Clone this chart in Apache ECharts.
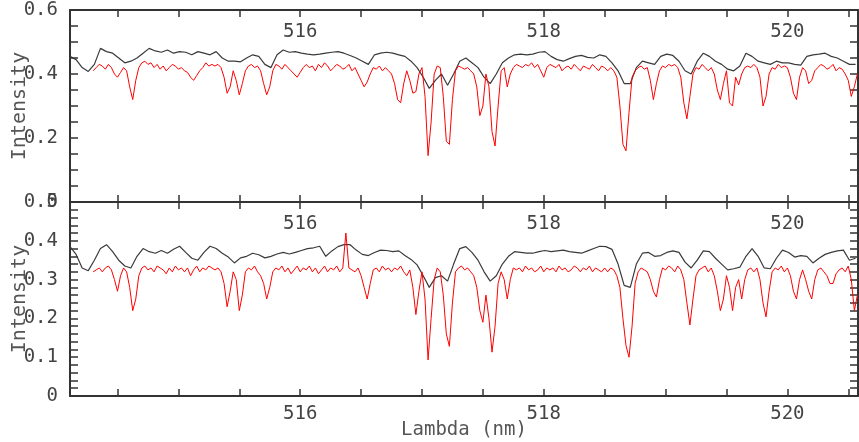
<!DOCTYPE html>
<html><head><meta charset="utf-8">
<script src="https://cdn.jsdelivr.net/npm/echarts@6/dist/echarts.min.js"></script>
<style>html,body{margin:0;padding:0;background:#fff}#c{width:859px;height:442px}</style>
</head><body><div id="c"></div>
<script>
// Wavelength axis (nm)
const xMin = 514.11, xMax = 520.58;
const xTickValues = [514.5,515,515.5,516,516.5,517,517.5,518,518.5,519,519.5,520,520.5];
const xLabelValues = [516,518,520];
// Intensity axes
const topYTicks = [0,0.05,0.1,0.15,0.2,0.25,0.3,0.35,0.4,0.45,0.5,0.55,0.6];
const topYLabels = [0,0.2,0.4,0.6];
const botYTicks = [0,0.02,0.04,0.06,0.08,0.1,0.12,0.14,0.16,0.18,0.2,0.22,0.24,0.26,0.28,0.3,0.32,0.34,0.36,0.38,0.4,0.42,0.44,0.46,0.48,0.5];
const botYLabels = [0,0.1,0.2,0.3,0.4,0.5];

// Sampling of the spectra (nm)
const redStart = 514.30, redStep = 0.025;
const blackStart = 514.11, blackStep = 0.05;

const topRed = [0.41,0.42,0.43,0.425,0.415,0.43,0.42,0.40,0.39,0.405,
 0.42,0.41,0.36,0.32,0.38,0.42,0.435,0.44,0.43,0.435,
 0.42,0.43,0.415,0.425,0.41,0.42,0.43,0.425,0.415,0.42,
 0.41,0.405,0.39,0.38,0.395,0.41,0.42,0.435,0.425,0.43,
 0.425,0.43,0.42,0.39,0.34,0.36,0.41,0.38,0.335,0.37,
 0.41,0.425,0.43,0.42,0.425,0.41,0.37,0.335,0.36,0.41,
 0.43,0.425,0.415,0.43,0.42,0.41,0.40,0.39,0.405,0.42,
 0.43,0.42,0.425,0.41,0.43,0.42,0.435,0.425,0.41,0.42,
 0.43,0.425,0.415,0.42,0.43,0.41,0.42,0.40,0.38,0.36,
 0.375,0.40,0.42,0.415,0.425,0.41,0.42,0.41,0.40,0.37,
 0.32,0.31,0.37,0.41,0.38,0.34,0.345,0.40,0.42,0.33,
 0.145,0.25,0.40,0.425,0.42,0.33,0.19,0.18,0.32,0.41,
 0.425,0.42,0.415,0.42,0.41,0.40,0.36,0.27,0.30,0.40,
 0.36,0.22,0.175,0.30,0.41,0.42,0.36,0.40,0.42,0.43,
 0.425,0.42,0.43,0.425,0.435,0.42,0.43,0.41,0.39,0.42,
 0.43,0.425,0.42,0.43,0.41,0.42,0.425,0.415,0.43,0.42,
 0.41,0.425,0.42,0.415,0.43,0.42,0.41,0.425,0.42,0.41,
 0.42,0.41,0.39,0.30,0.18,0.16,0.28,0.39,0.41,0.42,
 0.425,0.415,0.42,0.38,0.32,0.37,0.41,0.425,0.42,0.43,
 0.425,0.43,0.42,0.39,0.31,0.26,0.33,0.40,0.42,0.415,
 0.43,0.42,0.41,0.42,0.40,0.35,0.32,0.37,0.41,0.31,
 0.30,0.39,0.366,0.40,0.42,0.425,0.42,0.43,0.42,0.39,
 0.30,0.33,0.40,0.42,0.415,0.43,0.42,0.425,0.42,0.39,
 0.34,0.32,0.39,0.42,0.41,0.37,0.38,0.41,0.42,0.43,
 0.425,0.415,0.42,0.43,0.41,0.42,0.415,0.40,0.38,0.33,
 0.36,0.40];

const topBlack = [0.455,0.445,0.42,0.408,0.43,0.48,0.47,0.465,0.45,0.435,
 0.44,0.45,0.465,0.48,0.472,0.468,0.475,0.465,0.47,0.468,
 0.46,0.47,0.465,0.46,0.47,0.45,0.44,0.44,0.438,0.45,
 0.46,0.455,0.43,0.42,0.46,0.475,0.468,0.47,0.465,0.462,
 0.46,0.462,0.465,0.468,0.47,0.465,0.458,0.45,0.44,0.43,
 0.46,0.465,0.468,0.465,0.46,0.455,0.44,0.42,0.39,0.355,
 0.38,0.40,0.365,0.40,0.44,0.45,0.435,0.42,0.39,0.37,
 0.40,0.435,0.45,0.46,0.462,0.46,0.462,0.468,0.47,0.455,
 0.445,0.44,0.448,0.455,0.458,0.452,0.45,0.46,0.455,0.435,
 0.41,0.37,0.37,0.42,0.44,0.435,0.43,0.455,0.462,0.458,
 0.44,0.41,0.40,0.44,0.465,0.455,0.44,0.43,0.415,0.41,
 0.425,0.465,0.455,0.44,0.435,0.43,0.44,0.435,0.435,0.43,
 0.428,0.455,0.46,0.462,0.465,0.455,0.45,0.44,0.43,0.43];

const botRed = [0.32,0.325,0.33,0.32,0.33,0.335,0.325,0.30,0.27,0.31,
 0.33,0.32,0.28,0.22,0.25,0.31,0.33,0.335,0.325,0.33,
 0.32,0.335,0.33,0.325,0.315,0.33,0.32,0.335,0.325,0.33,
 0.32,0.33,0.31,0.325,0.335,0.32,0.33,0.325,0.335,0.33,
 0.325,0.33,0.32,0.29,0.23,0.27,0.32,0.30,0.22,0.26,
 0.32,0.33,0.325,0.335,0.32,0.31,0.29,0.25,0.28,0.32,
 0.33,0.325,0.335,0.32,0.33,0.315,0.325,0.335,0.32,0.33,
 0.325,0.335,0.32,0.33,0.315,0.325,0.335,0.32,0.33,0.325,
 0.335,0.32,0.33,0.42,0.33,0.325,0.32,0.33,0.31,0.28,
 0.25,0.29,0.325,0.33,0.32,0.335,0.325,0.33,0.32,0.33,
 0.325,0.335,0.32,0.31,0.325,0.28,0.21,0.27,0.32,0.25,
 0.093,0.20,0.30,0.33,0.32,0.26,0.16,0.128,0.24,0.32,
 0.33,0.335,0.325,0.33,0.32,0.31,0.28,0.22,0.19,0.26,
 0.20,0.113,0.18,0.29,0.32,0.30,0.25,0.30,0.33,0.325,
 0.33,0.32,0.335,0.325,0.33,0.32,0.325,0.335,0.32,0.33,
 0.325,0.33,0.32,0.335,0.325,0.33,0.32,0.325,0.335,0.33,
 0.32,0.33,0.325,0.335,0.32,0.33,0.325,0.32,0.33,0.32,
 0.33,0.325,0.31,0.28,0.20,0.13,0.10,0.18,0.29,0.32,
 0.33,0.325,0.32,0.30,0.27,0.255,0.30,0.33,0.325,0.335,
 0.33,0.32,0.335,0.325,0.30,0.24,0.183,0.25,0.31,0.325,
 0.33,0.335,0.32,0.33,0.31,0.27,0.22,0.25,0.31,0.28,
 0.22,0.28,0.30,0.25,0.30,0.325,0.33,0.32,0.33,0.30,
 0.24,0.204,0.27,0.32,0.33,0.325,0.335,0.32,0.33,0.31,
 0.27,0.25,0.30,0.325,0.30,0.27,0.25,0.30,0.325,0.33,
 0.32,0.31,0.29,0.29,0.315,0.325,0.33,0.32,0.335,0.30,
 0.22,0.26];

const botBlack = [0.385,0.365,0.33,0.323,0.35,0.38,0.39,0.372,0.35,0.335,
 0.33,0.36,0.38,0.372,0.368,0.375,0.368,0.378,0.386,0.37,
 0.355,0.35,0.37,0.386,0.38,0.368,0.358,0.343,0.356,0.36,
 0.368,0.364,0.356,0.36,0.366,0.37,0.366,0.37,0.375,0.38,
 0.382,0.386,0.36,0.374,0.385,0.39,0.39,0.376,0.365,0.362,
 0.37,0.376,0.375,0.372,0.374,0.362,0.352,0.338,0.31,0.28,
 0.305,0.31,0.296,0.34,0.38,0.385,0.37,0.35,0.32,0.296,
 0.31,0.34,0.36,0.372,0.37,0.368,0.368,0.372,0.375,0.372,
 0.374,0.376,0.372,0.37,0.368,0.374,0.38,0.386,0.385,0.378,
 0.34,0.285,0.28,0.34,0.368,0.37,0.36,0.362,0.37,0.374,
 0.37,0.345,0.33,0.35,0.374,0.372,0.355,0.34,0.325,0.328,
 0.332,0.36,0.38,0.36,0.33,0.328,0.355,0.376,0.37,0.358,
 0.362,0.36,0.343,0.355,0.365,0.37,0.374,0.376,0.35,0.355];

function pairs(start, step, ys) {
  return ys.map((y, i) => [+(start + i * step).toFixed(4), y]);
}

const FONT = 'DejaVu Sans Mono';
const TXT = '#444';
const LINE = '#333';
const fmt = v => (Math.abs(v) < 1e-9 ? '0' : (+v).toFixed(1));

function xAx(grid, pos, showLabels, inside, extra) {
  return Object.assign({
    type: 'value', gridIndex: grid, position: pos, min: xMin, max: xMax,
    axisLine: { show: true, onZero: false, lineStyle: { color: LINE, width: 2 } },
    axisTick: { show: true, inside: true, length: 7, customValues: xTickValues, lineStyle: { color: LINE, width: 1.5 } },
    axisLabel: { show: showLabels, inside: inside, customValues: xLabelValues, color: TXT,
      fontFamily: FONT, fontSize: 19, margin: inside ? 13 : 9 },
    splitLine: { show: false }
  }, extra || {});
}
function yAx(grid, pos, ticks, labels, max, showLabels, extra) {
  return Object.assign({
    type: 'value', gridIndex: grid, position: pos, min: 0, max: max,
    axisLine: { show: true, onZero: false, lineStyle: { color: LINE, width: 2 } },
    axisTick: { show: true, inside: true, length: 8, customValues: ticks, lineStyle: { color: LINE, width: 1.5 } },
    axisLabel: { show: showLabels, customValues: labels, formatter: fmt, color: TXT,
      fontFamily: FONT, fontSize: 19, margin: 12 },
    splitLine: { show: false }
  }, extra || {});
}
const yName = {
  name: 'Intensity', nameLocation: 'middle', nameGap: 40, nameRotate: 90, nameMoveOverlap: false,
  nameTextStyle: { color: '#555', fontFamily: FONT, fontSize: 20 }
};

const chart = echarts.init(document.getElementById('c'), null, { renderer: 'canvas' });
chart.setOption({
  animation: false,
  backgroundColor: '#fff',
  grid: [
    { left: 70, right: 1, top: 10, height: 192, containLabel: false, outerBoundsMode: 'none' },
    { left: 70, right: 1, top: 202, height: 194, containLabel: false, outerBoundsMode: 'none' }
  ],
  xAxis: [
    xAx(0, 'bottom', false, true),
    xAx(0, 'top', true, true),
    xAx(1, 'bottom', true, false, { name: 'Lambda (nm)', nameLocation: 'middle', nameGap: 25, nameMoveOverlap: false,
      nameTextStyle: { color: '#555', fontFamily: FONT, fontSize: 19 } }),
    xAx(1, 'top', true, true)
  ],
  yAxis: [
    yAx(0, 'left', topYTicks, topYLabels, 0.6, true, yName),
    yAx(0, 'right', topYTicks, topYLabels, 0.6, false),
    yAx(1, 'left', botYTicks, botYLabels, 0.5, true, yName),
    yAx(1, 'right', botYTicks, botYLabels, 0.5, false)
  ],
  series: [
    { type: 'line', xAxisIndex: 0, yAxisIndex: 0, data: pairs(blackStart, blackStep, topBlack),
      showSymbol: false, lineStyle: { color: '#3a3a3a', width: 1.2 }, z: 2 },
    { type: 'line', xAxisIndex: 0, yAxisIndex: 0, data: pairs(redStart, redStep, topRed),
      showSymbol: false, lineStyle: { color: '#ff0000', width: 1 }, z: 3 },
    { type: 'line', xAxisIndex: 2, yAxisIndex: 2, data: pairs(blackStart, blackStep, botBlack),
      showSymbol: false, lineStyle: { color: '#3a3a3a', width: 1.2 }, z: 2 },
    { type: 'line', xAxisIndex: 2, yAxisIndex: 2, data: pairs(redStart, redStep, botRed),
      showSymbol: false, lineStyle: { color: '#ff0000', width: 1 }, z: 3 }
  ]
});
</script>
</body></html>
